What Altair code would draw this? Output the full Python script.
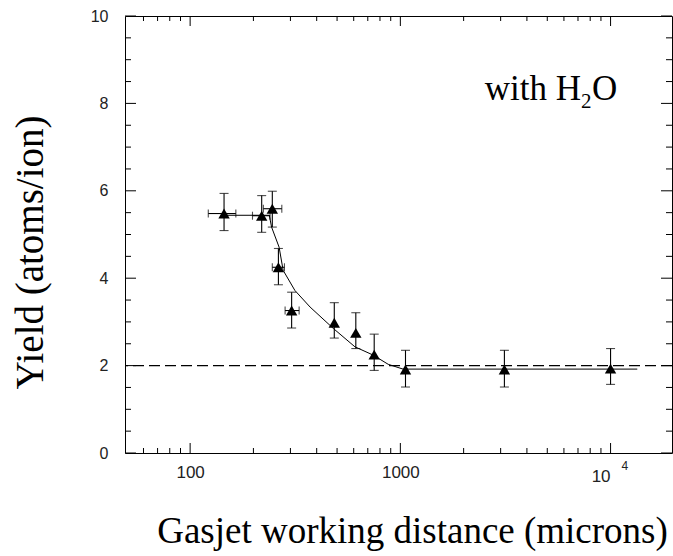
import altair as alt
import pandas as pd

# ---- data ----
xs = [145, 219, 246, 263, 304, 485, 614, 751, 1058, 3126, 10000]
ys = [5.48, 5.43, 5.59, 4.25, 3.26, 2.98, 2.75, 2.25, 1.91, 1.91, 1.93]
y_lo = [5.09, 5.05, 5.17, 3.85, 2.86, 2.63, 2.39, 1.89, 1.51, 1.51, 1.57]
y_hi = [5.94, 5.89, 5.99, 4.68, 3.68, 3.44, 3.21, 2.72, 2.35, 2.35, 2.39]

# horizontal error bars (first five points only)
xe_x = [145, 219, 246, 263, 304]
xe_y = [5.48, 5.43, 5.59, 4.25, 3.26]
x_lo = [122, 198, 223, 246, 283]
x_hi = [165, 240, 273, 281, 330]

# fitted curve
fit_x = [145, 238, 244, 265, 277, 315, 372, 480, 608, 743, 875, 1030, 13400]
fit_y = [5.44, 5.44, 5.17, 4.71, 4.18, 3.72, 3.34, 2.85, 2.43, 2.24, 2.03, 1.92, 1.92]

ref_level = [2.0]

x_major = [100, 1000, 10000]
x_minor = [60, 70, 80, 90, 200, 300, 400, 500, 600, 700, 800, 900,
           2000, 3000, 4000, 5000, 6000, 7000, 8000, 9000]
y_major = [0, 2, 4, 6, 8, 10]
y_minor = [0.5, 1, 1.5, 2.5, 3, 3.5, 4.5, 5, 5.5, 6.5, 7, 7.5, 8.5, 9, 9.5]

W, H = 547, 437
SERIF = "Liberation Serif"
SANS = "Liberation Sans"

pts = pd.DataFrame({"x": xs, "y": ys, "ylo": y_lo, "yhi": y_hi})
xerr = pd.DataFrame({"x": xe_x, "y": xe_y, "xlo": x_lo, "xhi": x_hi})
fit = pd.DataFrame({"x": fit_x, "y": fit_y})
ref = pd.DataFrame({"y": ref_level})
xmaj = pd.DataFrame({"v": x_major})
xmin = pd.DataFrame({"v": x_minor})
ymaj = pd.DataFrame({"v": y_major})
ymin = pd.DataFrame({"v": y_minor})

xs_ = alt.Scale(type="log", domain=[49, 19600])
ys_ = alt.Scale(domain=[0, 10])

x_axis = alt.Axis(
    values=x_major,
    labelExpr="datum.value >= 10000 ? '' : format(datum.value, 'd')",
    ticks=False, domain=False, grid=False, labelFlush=False,
    labelFont=SANS, labelFontSize=17, labelColor="#222", labelPadding=11,
    title="Gasjet working distance (microns)",
    titleFont=SERIF, titleFontSize=37, titleFontWeight="normal", titleColor="black",
    titleX=287, titleY=89, titleBaseline="alphabetic", titleAlign="center",
)
y_axis = alt.Axis(
    values=y_major, format="d",
    ticks=False, domain=False, grid=False, labelFlush=False,
    labelFont=SANS, labelFontSize=16, labelColor="#222", labelPadding=17,
    title="Yield (atoms/ion)",
    titleFont=SERIF, titleFontSize=39, titleFontWeight="normal", titleColor="black",
    titleAngle=270, titleX=-83, titleY=236, titleBaseline="alphabetic", titleAlign="center",
)


def X(field):
    return alt.X(field, type="quantitative", scale=xs_, axis=x_axis)


def Y(field):
    return alt.Y(field, type="quantitative", scale=ys_, axis=y_axis)


# dashed reference line
dash = alt.Chart(ref).mark_rule(color="black", strokeWidth=1.2, strokeDash=[11, 5]).encode(
    y=Y("y")
)

curve = alt.Chart(fit).mark_line(color="black", strokeWidth=1).encode(
    x=X("x"), y=Y("y"), order="x:Q",
)

ybars = alt.Chart(pts).mark_rule(color="black", strokeWidth=1.1).encode(
    x=X("x"), y=Y("ylo"), y2="yhi:Q",
)
ycap_lo = alt.Chart(pts).mark_tick(color="black", orient="horizontal", size=9, thickness=1.1).encode(
    x=X("x"), y=Y("ylo"))
ycap_hi = alt.Chart(pts).mark_tick(color="black", orient="horizontal", size=9, thickness=1.1).encode(
    x=X("x"), y=Y("yhi"))

xbars = alt.Chart(xerr).mark_rule(color="black", strokeWidth=1.1).encode(
    x=X("xlo"), x2="xhi:Q", y=Y("y"),
)
xcap_lo = alt.Chart(xerr).mark_tick(color="black", orient="vertical", size=8, thickness=1.1).encode(
    x=X("xlo"), y=Y("y"))
xcap_hi = alt.Chart(xerr).mark_tick(color="black", orient="vertical", size=8, thickness=1.1).encode(
    x=X("xhi"), y=Y("y"))

markers = alt.Chart(pts).mark_point(shape="triangle-up", filled=True, color="black", opacity=1, size=130).encode(
    x=X("x"), y=Y("y"))


def xticks(df, length, top):
    y0 = 0 if top else H
    y1 = length if top else H - length
    return alt.Chart(df).mark_rule(color="black", strokeWidth=1).encode(
        x=X("v"), y=alt.value(y0), y2=alt.value(y1))


def yticks(df, length, right):
    x0 = W if right else 0
    x1 = W - length if right else length
    return alt.Chart(df).mark_rule(color="black", strokeWidth=1).encode(
        y=Y("v"), x=alt.value(x0), x2=alt.value(x1))


tick_layers = [
    xticks(xmaj, 10, False), xticks(xmin, 5, False),
    xticks(xmaj, 10, True), xticks(xmin, 5, True),
    yticks(ymaj, 11, False), yticks(ymin, 6, False),
    yticks(ymaj, 11, True), yticks(ymin, 6, True),
]

# "10^4" label
lab_df = pd.DataFrame({"x": [10000]})
ten = alt.Chart(lab_df).mark_text(text="10", font=SANS, fontSize=17, color="#222",
                                  align="right", baseline="alphabetic", dx=0).encode(
    x=X("x"), y=alt.value(H + 29))
four = alt.Chart(lab_df).mark_text(text="4", font=SANS, fontSize=12, color="#222",
                                   align="left", baseline="alphabetic", dx=11).encode(
    x=X("x"), y=alt.value(H + 17))

# annotation "with H2O"
ann1 = alt.Chart(lab_df).mark_text(text="with H", font=SERIF, fontSize=35, color="black",
                                   align="right", baseline="alphabetic").encode(
    x=alt.value(581 - 125), y=alt.value(100 - 16))
ann2 = alt.Chart(lab_df).mark_text(text="2", font=SERIF, fontSize=21, color="black",
                                   align="left", baseline="alphabetic").encode(
    x=alt.value(581 - 125), y=alt.value(108 - 16))
ann3 = alt.Chart(lab_df).mark_text(text="O", font=SERIF, fontSize=35, color="black",
                                   align="left", baseline="alphabetic").encode(
    x=alt.value(592 - 125), y=alt.value(100 - 16))

chart = alt.layer(
    dash, curve, ybars, ycap_lo, ycap_hi, xbars, xcap_lo, xcap_hi, markers,
    *tick_layers, ten, four, ann1, ann2, ann3,
).properties(
    width=W, height=H,
    autosize=alt.AutoSizeParams(type="none"),
    padding={"left": 125, "top": 16, "right": 1, "bottom": 103},
    background="white",
).configure_view(stroke="black", strokeWidth=1)

chart.save("out.html", embed_options={"renderer": "svg", "actions": False})
